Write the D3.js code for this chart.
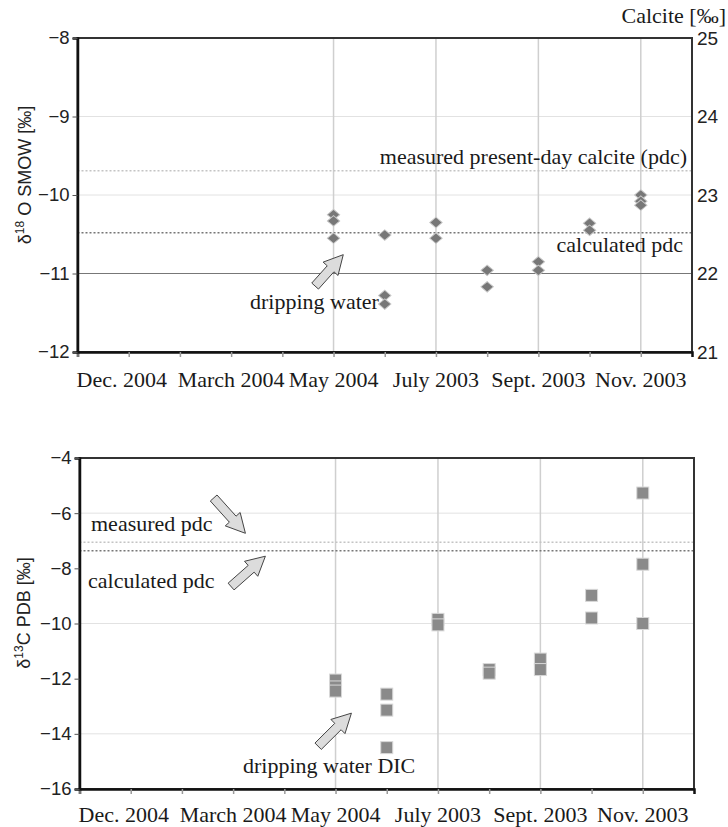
<!DOCTYPE html>
<html lang="en"><head><meta charset="UTF-8">
<title>d18O and d13C of dripping water</title>
<script src="https://d3js.org/d3.v7.min.js"></script>
<style>
  body { margin: 0; background: #fff; }
  .serif { font-family: "Liberation Serif", "Times New Roman", serif; font-size: 22px; fill: #1a1a1a; }
  .sans { font-family: "Liberation Sans", Arial, sans-serif; }
</style>
</head>
<body>
<script>
// sampling slots along the x axis (0..12), month labels on the odd slots
var monthLabels = ["Dec. 2004", "March 2004", "May 2004", "July 2003", "Sept. 2003", "Nov. 2003"];
var monthSlots = [1, 3, 5, 7, 9, 11];
var gridSlots = [5, 7, 9, 11];
var sampleSlots = [5, 6, 7, 8, 9, 10, 11];

// delta 18O SMOW of dripping water, per sampling slot
var d18O = [
  [-10.25, -10.33, -10.55],
  [-10.51, -11.28, -11.39],
  [-10.35, -10.55],
  [-10.96, -11.17],
  [-10.85, -10.96],
  [-10.36, -10.45],
  [-10.0, -10.08, -10.13]
];
// delta 13C PDB of dripping water DIC
var d13C = [
  [-12.05, -12.3, -12.45],
  [-12.56, -13.14, -14.5],
  [-9.85, -10.05],
  [-11.67, -11.8],
  [-11.29, -11.67],
  [-8.98, -9.8],
  [-5.27, -7.85, -10.0]
];

// reference levels
var o18MeasuredPdc = -9.69, o18CalculatedPdc = -10.48, o18DripMean = -11;
var c13MeasuredPdc = -7.05, c13CalculatedPdc = -7.36;

var o18Ticks = [-8, -9, -10, -11, -12];
var o18Grid = [-9, -10];
var calciteTicks = [21, 22, 23, 24, 25];
var c13Ticks = [-4, -6, -8, -10, -12, -14, -16];
var c13Grid = [-6, -10, -14];

var W = 728, H = 827;
var svg = d3.select("body").append("svg").attr("width", W).attr("height", H);

function arrowPath(x1, y1, x2, y2) {
  var dx = x2 - x1, dy = y2 - y1, L = Math.hypot(dx, dy);
  var ux = dx / L, uy = dy / L, nx = -uy, ny = ux;
  var hl = 19, hw = 10, sw = 4.5;
  var pts = [[0, -sw], [L - hl, -sw], [L - hl, -hw], [L, 0], [L - hl, hw], [L - hl, sw], [0, sw]];
  return "M" + pts.map(function(p) {
    return [x1 + ux * p[0] + nx * p[1], y1 + uy * p[0] + ny * p[1]].join(",");
  }).join("L") + "Z";
}

function drawArrow(g, x, y, a) {
  g.append("path")
    .attr("d", arrowPath(x(a[0][0]), y(a[0][1]), x(a[1][0]), y(a[1][1])))
    .attr("fill", "#dcdcdc").attr("stroke", "#444").attr("stroke-width", 1);
}

function hline(g, x, y, v, color, dash, width) {
  g.append("line")
    .attr("x1", x.range()[0]).attr("x2", x.range()[1])
    .attr("y1", y(v)).attr("y2", y(v))
    .attr("stroke", color).attr("stroke-width", width || 1)
    .attr("stroke-dasharray", dash || null);
}

function frame(g, x, y, grid) {
  // horizontal grid
  grid.forEach(function(v) { hline(g, x, y, v, "#e2e2e2", null, 1); });
  // vertical grid
  g.selectAll(".vg").data(gridSlots).enter().append("line")
    .attr("x1", x).attr("x2", x)
    .attr("y1", y.range()[0]).attr("y2", y.range()[1])
    .attr("stroke", "#cfcfcf").attr("stroke-width", 1.5);
}

function axes(g, x, y, ticks, labelY) {
  // outer border
  g.append("rect")
    .attr("x", x.range()[0]).attr("y", y.range()[1])
    .attr("width", x.range()[1] - x.range()[0]).attr("height", y.range()[0] - y.range()[1])
    .attr("fill", "none").attr("stroke", "#333").attr("stroke-width", 2);

  var xa = g.append("g").attr("transform", "translate(0," + y.range()[0] + ")")
    .call(d3.axisBottom(x).tickValues(d3.range(0, 12)).tickSize(5).tickFormat(""));
  xa.select(".domain").attr("stroke", "#111").attr("stroke-width", 2.5);
  xa.selectAll(".tick line").attr("stroke", "#999").attr("stroke-width", 1.5);

  g.selectAll(".mlab").data(monthLabels).enter().append("text")
    .attr("class", "serif")
    .attr("x", function(d, i) { return i === 0 ? x.range()[0] - 1 : x(monthSlots[i]); })
    .attr("y", labelY)
    .attr("text-anchor", function(d, i) { return i === 0 ? "start" : "middle"; })
    .text(function(d) { return d; });

  var ya = g.append("g").attr("transform", "translate(" + x.range()[0] + ",0)")
    .call(d3.axisLeft(y).tickValues(ticks).tickSize(5).tickPadding(3).tickFormat(d3.format("d")));
  ya.select(".domain").attr("stroke", "#111").attr("stroke-width", 2.5);
  ya.selectAll(".tick line").attr("stroke", "#555");
  ya.selectAll("text").attr("class", "sans").attr("font-size", 18.5).attr("fill", "#222");
}

// ---------- top panel: d18O ----------
var topG = svg.append("g");
var x1 = d3.scaleLinear().domain([0, 12]).range([77.5, 692]);
var y1 = d3.scaleLinear().domain([-12, -8]).range([352, 38]);
var yCal = d3.scaleLinear().domain([21, 25]).range([352, 38]);

frame(topG, x1, y1, o18Grid);
hline(topG, x1, y1, o18DripMean, "#777", null, 1.2);
hline(topG, x1, y1, o18MeasuredPdc, "#c4c4c4", "2,2", 1.5);
hline(topG, x1, y1, o18CalculatedPdc, "#777", "2,2", 1.5);
axes(topG, x1, y1, o18Ticks, 387);

var ra = topG.append("g").attr("transform", "translate(" + x1.range()[1] + ",0)")
  .call(d3.axisRight(yCal).tickValues(calciteTicks).tickSize(0).tickPadding(5).tickFormat(d3.format("d")));
ra.select(".domain").remove();
ra.selectAll("text").attr("class", "sans").attr("font-size", 19).attr("fill", "#222");

topG.append("text").attr("class", "serif").attr("x", 726).attr("y", 23)
  .attr("text-anchor", "end").text("Calcite [‰]");

var diamond = d3.symbol().type(d3.symbolSquare).size(78);
sampleSlots.forEach(function(s, i) {
  topG.selectAll(null).data(d18O[i]).enter().append("path")
    .attr("d", diamond)
    .attr("transform", function(v) { return "translate(" + x1(s) + "," + y1(v) + ") scale(1,0.85) rotate(45)"; })
    .attr("fill", "#777").attr("stroke", "#c8c8c8").attr("stroke-width", 1);
});

topG.append("text").attr("class", "serif").attr("x", 687).attr("y", 164)
  .attr("text-anchor", "end").text("measured present-day calcite (pdc)");
topG.append("text").attr("class", "serif").attr("x", 683).attr("y", 252)
  .attr("text-anchor", "end").text("calculated pdc");
topG.append("text").attr("class", "serif").attr("x", 250).attr("y", 309).text("dripping water");
drawArrow(topG, x1, y1, [[4.64, -11.16], [5.19, -10.76]]);

var t1 = topG.append("text").attr("class", "sans").attr("font-size", 18).attr("fill", "#222")
  .attr("text-anchor", "middle").attr("transform", "translate(31,175) rotate(-90)");
t1.append("tspan").text("δ");
t1.append("tspan").attr("font-size", 12).attr("dy", -7).text("18");
t1.append("tspan").attr("dy", 7).text(" O SMOW [‰]");

// ---------- bottom panel: d13C ----------
var botG = svg.append("g");
var x2 = d3.scaleLinear().domain([0, 12]).range([79.5, 694]);
var y2 = d3.scaleLinear().domain([-16, -4]).range([789, 458]);

frame(botG, x2, y2, c13Grid);
hline(botG, x2, y2, c13MeasuredPdc, "#c4c4c4", "2,2", 1.5);
hline(botG, x2, y2, c13CalculatedPdc, "#777", "2,2", 1.5);
axes(botG, x2, y2, c13Ticks, 822);

sampleSlots.forEach(function(s, i) {
  botG.selectAll(null).data(d13C[i]).enter().append("rect")
    .attr("x", x2(s) - 6).attr("y", function(v) { return y2(v) - 6; })
    .attr("width", 12).attr("height", 12)
    .attr("fill", "#8a8a8a").attr("stroke", "#d8d8d8").attr("stroke-width", 1);
});

botG.append("text").attr("class", "serif").attr("x", 91).attr("y", 531).text("measured pdc");
botG.append("text").attr("class", "serif").attr("x", 88).attr("y", 588).text("calculated pdc");
botG.append("text").attr("class", "serif").attr("x", 243).attr("y", 773).text("dripping water DIC");
drawArrow(botG, x2, y2, [[2.62, -5.45], [3.24, -6.73]]);
drawArrow(botG, x2, y2, [[2.96, -8.66], [3.63, -7.56]]);
drawArrow(botG, x2, y2, [[4.66, -14.45], [5.31, -13.25]]);

var t2 = botG.append("text").attr("class", "sans").attr("font-size", 18).attr("fill", "#222")
  .attr("text-anchor", "middle").attr("transform", "translate(30,613) rotate(-90)");
t2.append("tspan").text("δ");
t2.append("tspan").attr("font-size", 12).attr("dy", -7).text("13");
t2.append("tspan").attr("dy", 7).text("C PDB [‰]");
</script>
</body></html>
